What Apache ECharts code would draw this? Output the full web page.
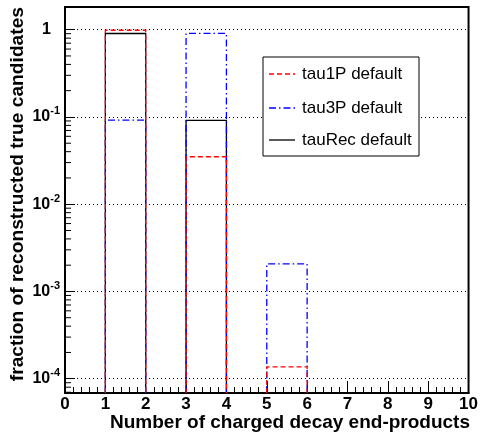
<!DOCTYPE html>
<html>
<head>
<meta charset="utf-8">
<script src="https://cdn.jsdelivr.net/npm/echarts@6/dist/echarts.min.js"></script>
<style>
  html, body { margin: 0; padding: 0; background: #fff; }
  #chart { width: 481px; height: 435px; }
</style>
</head>
<body>
<div id="chart"></div>
<script>
// bin low edges (bin width 1) and the three histograms
const binLow = [0, 1, 2, 3, 4, 5, 6, 7, 8, 9]
const tau1P = [0, 0.985, 0, 0.035, 0, 0.000137, 0, 0, 0, 0]
const tau3P = [0, 0.092, 0, 0.906, 0, 0.00207, 0, 0, 0, 0]
const tauRec = [0, 0.905, 0, 0.0915, 0, 0, 0, 0, 0, 0]
const xTicks = [0, 1, 2, 3, 4, 5, 6, 7, 8, 9, 10]

const FONT = '"Liberation Sans", Arial, sans-serif'
const yMin = 6.86e-5
const yMax = 1.82

// ROOT-like minor ticks on log axis (2..9 per decade)
const yMinor = []
for (let k = -5; k <= 0; k++) {
  for (let m = 2; m <= 9; m++) {
    const v = m * Math.pow(10, k)
    if (v >= yMin && v <= yMax) yMinor.push([v])
  }
}

function histData(vals) {
  const out = []
  vals.forEach((v, i) => {
    if (v > 0) out.push([binLow[i], binLow[i] + 1, v])
  })
  return out
}

function histRenderer(color, dash) {
  return function(params, api) {
    const bottom = params.coordSys.y + params.coordSys.height
    const p1 = api.coord([api.value(0), api.value(2)])
    const p2 = api.coord([api.value(1), api.value(2)])
    return {
      type: 'polyline',
      shape: { points: [[p1[0], bottom], p1, p2, [p2[0], bottom]] },
      style: { fill: 'none', stroke: color, lineWidth: 1.3, lineDash: dash }
    }
  }
}

const myChart = echarts.init(document.getElementById('chart'))
const option = {
  animation: false,
  grid: {
    left: 65, top: 7, width: 405, height: 386,
    show: true, borderColor: '#000', borderWidth: 2, backgroundColor: 'transparent'
  },
  xAxis: {
    type: 'value',
    min: xTicks[0],
    max: xTicks[xTicks.length - 1],
    interval: 1,
    axisLine: { lineStyle: { color: '#000', width: 2 } },
    axisTick: { inside: true, length: 12, lineStyle: { color: '#000', width: 1 } },
    minorTick: { show: true, splitNumber: 5, length: 6, lineStyle: { color: '#000', width: 1 } },
    splitLine: { show: false },
    axisLabel: {
      margin: 3, color: '#000', fontSize: 17, fontWeight: 'bold', fontFamily: FONT
    }
  },
  yAxis: {
    type: 'log',
    logBase: 10,
    min: yMin,
    max: yMax,
    axisLine: { lineStyle: { color: '#000', width: 2 } },
    axisTick: { inside: true, length: 10, lineStyle: { color: '#000', width: 1 } },
    splitLine: { show: true, lineStyle: { color: '#000', width: 1, type: [1, 3] } },
    axisLabel: {
      margin: 5,
      showMinLabel: false,
      showMaxLabel: false,
      color: '#000',
      formatter: function(v) {
        const e = Math.round(Math.log10(v))
        if (e === 0) return '{b|1}{gap| }'
        return '{b|10}{sup|' + e + '}'
      },
      rich: {
        b: { fontSize: 16, fontWeight: 'bold', fontFamily: FONT, lineHeight: 22, color: '#000' },
        sup: { fontSize: 11, fontWeight: 'bold', fontFamily: FONT, verticalAlign: 'top', lineHeight: 12, color: '#000' },
        gap: { width: 9, fontSize: 11 }
      }
    }
  },
  series: [
    {
      name: 'tauRec default', type: 'custom', data: histData(tauRec),
      encode: { x: [0, 1], y: 2 },
      renderItem: histRenderer('#000000', null)
    },
    {
      name: 'tau3P default', type: 'custom', data: histData(tau3P),
      encode: { x: [0, 1], y: 2 },
      renderItem: histRenderer('#0000ff', [7, 3, 1.5, 3])
    },
    {
      name: 'tau1P default', type: 'custom', data: histData(tau1P),
      encode: { x: [0, 1], y: 2 },
      renderItem: histRenderer('#ff0000', [5, 3])
    },
    {
      // minor ticks of the log axis
      type: 'custom', data: yMinor, encode: { y: 0 }, silent: true,
      renderItem: function(params, api) {
        const p = api.coord([0, api.value(0)])
        return {
          type: 'line',
          shape: { x1: p[0], y1: p[1], x2: p[0] + 6, y2: p[1] },
          style: { stroke: '#000', lineWidth: 1 }
        }
      }
    }
  ],
  graphic: [
    // legend box
    { type: 'rect', shape: { x: 263, y: 57, width: 156, height: 99 },
      style: { fill: '#fff', stroke: '#000', lineWidth: 1 }, z: 100 },
    { type: 'line', shape: { x1: 269, y1: 74, x2: 295, y2: 74 },
      style: { stroke: '#ff0000', lineWidth: 1.3, lineDash: [5, 3] }, z: 101 },
    { type: 'line', shape: { x1: 269, y1: 108, x2: 295, y2: 108 },
      style: { stroke: '#0000ff', lineWidth: 1.3, lineDash: [7, 3, 1.5, 3] }, z: 101 },
    { type: 'line', shape: { x1: 269, y1: 140, x2: 295, y2: 140 },
      style: { stroke: '#000', lineWidth: 1.3 }, z: 101 },
    { type: 'text', x: 302, y: 74, z: 101,
      style: { text: 'tau1P default', fontSize: 17, fontFamily: FONT, fill: '#000', textVerticalAlign: 'middle' } },
    { type: 'text', x: 302, y: 108, z: 101,
      style: { text: 'tau3P default', fontSize: 17, fontFamily: FONT, fill: '#000', textVerticalAlign: 'middle' } },
    { type: 'text', x: 302, y: 140, z: 101,
      style: { text: 'tauRec default', fontSize: 17, fontFamily: FONT, fill: '#000', textVerticalAlign: 'middle' } },
    // axis titles
    { type: 'text', x: 470, y: 423, z: 101,
      style: { text: 'Number of charged decay end-products', fontSize: 19, fontWeight: 'bold', fontFamily: FONT,
        fill: '#000', textAlign: 'right', textVerticalAlign: 'middle' } },
    { type: 'text', x: 18, y: 7, rotation: Math.PI / 2, z: 101,
      style: { text: 'fraction of reconstructed true candidates', fontSize: 19.2, fontWeight: 'bold', fontFamily: FONT,
        fill: '#000', textAlign: 'right', textVerticalAlign: 'middle' } }
  ]
}
myChart.setOption(option)
</script>
</body>
</html>
